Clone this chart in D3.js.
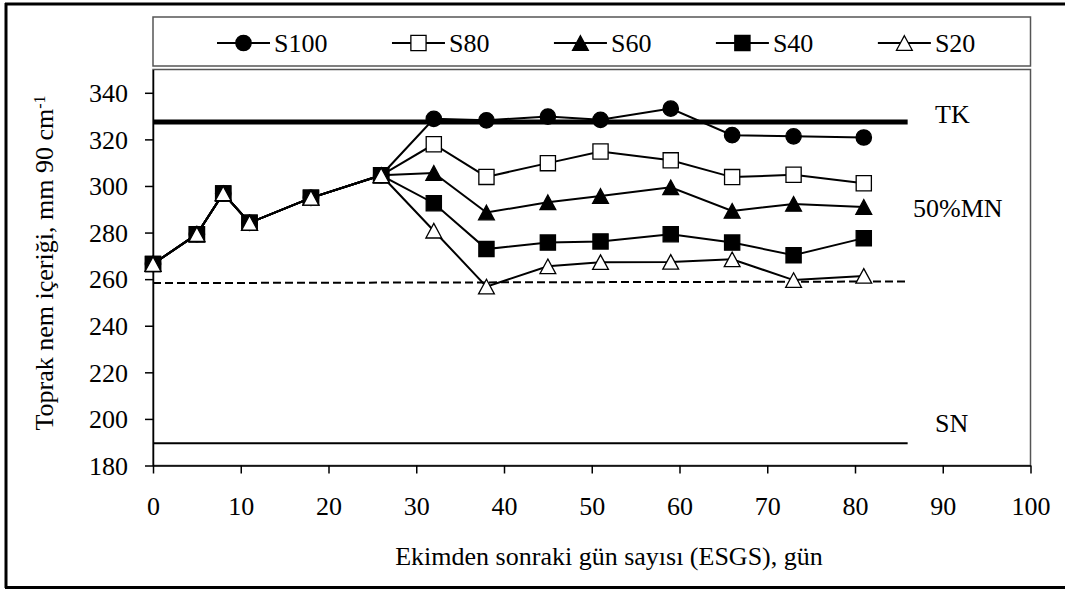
<!DOCTYPE html>
<html>
<head>
<meta charset="utf-8">
<script src="https://cdn.jsdelivr.net/npm/d3@7"></script>
<style>
  html, body { margin: 0; padding: 0; background: #fff; }
  svg text { font-family: "Liberation Serif", "Times New Roman", "DejaVu Serif", serif; fill: #000; }
</style>
</head>
<body>
<svg id="chart" width="1065" height="589"></svg>
<script>
// Days after sowing
const days = [0, 5, 8, 11, 18, 26, 32, 38, 45, 51, 59, 66, 73, 81];

// Soil water content (mm / 90 cm) per irrigation treatment
const s100 = [266.5, 279.3, 296.8, 284.2, 294.9, 304.6, 328.8, 328.2, 329.8, 328.4, 333.2, 321.8, 321.3, 320.8];
const s80  = [266.5, 279.3, 296.8, 284.2, 294.9, 304.6, 317.9, 303.9, 309.8, 314.8, 311.0, 303.8, 304.8, 301.2];
const s60  = [266.5, 279.3, 296.8, 284.2, 294.9, 304.6, 305.6, 288.6, 293.0, 295.7, 299.4, 289.3, 292.3, 291.0];
const s40  = [266.5, 279.3, 296.8, 284.2, 294.9, 304.6, 292.6, 272.9, 275.7, 276.2, 279.3, 275.7, 270.3, 277.6];
const s20  = [266.5, 279.3, 296.8, 284.2, 294.9, 304.6, 280.8, 256.8, 265.5, 267.3, 267.4, 268.5, 259.6, 261.4];

const seriesNames = ["S100", "S80", "S60", "S40", "S20"];
const seriesValues = [s100, s80, s60, s40, s20];
const seriesMarkers = ["circle", "square", "triangle", "square", "triangle"];
const seriesFilled = [true, false, true, true, false];

// Reference levels: field capacity, 50% allowable depletion, wilting point
const refDays = [0, 86];
const tkLevel = [327.5, 327.5];
const mnLevel = [258.3, 259.0];
const snLevel = [189.5, 189.6];
const refLabels = ["TK", "50%MN", "SN"];

const xTicks = [0, 10, 20, 30, 40, 50, 60, 70, 80, 90, 100];
const yTicks = [180, 200, 220, 240, 260, 280, 300, 320, 340];

const svg = d3.select("#chart");
const FONT = 26;
const SERIF = '"Liberation Serif", "Times New Roman", "DejaVu Serif", serif';

// Outer frame (left, top, bottom)
svg.append("line").attr("x1", 6).attr("x2", 6).attr("y1", 3).attr("y2", 588)
  .attr("stroke", "#000").attr("stroke-width", 3);
svg.append("line").attr("x1", 5).attr("x2", 1065).attr("y1", 4).attr("y2", 4)
  .attr("stroke", "#000").attr("stroke-width", 3);
svg.append("line").attr("x1", 5).attr("x2", 1065).attr("y1", 587.5).attr("y2", 587.5)
  .attr("stroke", "#000").attr("stroke-width", 3);

const plot = { left: 153, right: 1030.5, top: 69.5, bottom: 465.5 };

const x = d3.scaleLinear().domain([0, 100]).range([plot.left, plot.right]);
const y = d3.scaleLinear().domain([180, 350]).range([plot.bottom, plot.top]);

// Plot area frame
svg.append("rect")
  .attr("x", plot.left).attr("y", plot.top)
  .attr("width", plot.right - plot.left).attr("height", plot.bottom - plot.top)
  .attr("fill", "none").attr("stroke", "#555").attr("stroke-width", 1.5);

// Legend frame
svg.append("rect")
  .attr("x", 153).attr("y", 17).attr("width", 1030.5 - 153).attr("height", 49)
  .attr("fill", "none").attr("stroke", "#555").attr("stroke-width", 1.5);

// Axes
const xAxis = svg.append("g")
  .attr("transform", `translate(0,${plot.bottom})`)
  .call(d3.axisBottom(x).tickValues(xTicks).tickSize(8).tickSizeOuter(0).tickPadding(0));
xAxis.attr("font-family", SERIF);
xAxis.select(".domain").attr("stroke", "#000").attr("stroke-width", 1.5);
xAxis.selectAll(".tick line").attr("stroke", "#000").attr("stroke-width", 1.5);
xAxis.selectAll(".tick text")
  .attr("y", 49.5).attr("dy", null)
  .style("font-size", FONT + "px").style("font-family", SERIF);

const yAxis = svg.append("g")
  .attr("transform", `translate(${plot.left},0)`)
  .call(d3.axisLeft(y).tickValues(yTicks).tickSize(8).tickSizeOuter(0).tickPadding(17));
yAxis.attr("font-family", SERIF);
yAxis.select(".domain").attr("stroke", "#000").attr("stroke-width", 1.5);
yAxis.selectAll(".tick line").attr("stroke", "#000").attr("stroke-width", 1.5);
yAxis.selectAll(".tick text")
  .attr("dy", "0.34em")
  .style("font-size", FONT + "px").style("font-family", SERIF);

// Axis titles
svg.append("text")
  .attr("x", 609).attr("y", 565)
  .attr("text-anchor", "middle")
  .style("font-size", FONT + "px")
  .text("Ekimden sonraki gün sayısı (ESGS), gün");

const yTitle = svg.append("text")
  .attr("transform", "translate(53,263) rotate(-90)")
  .attr("text-anchor", "middle")
  .style("font-size", FONT + "px");
yTitle.append("tspan").text("Toprak nem içeriği, mm 90 cm");
yTitle.append("tspan").attr("dy", "-0.5em").style("font-size", "16px").text("-1");

// Reference lines
const refLine = d3.line().x((d, i) => x(refDays[i])).y(d => y(d));
svg.append("path").datum(tkLevel).attr("d", refLine)
  .attr("fill", "none").attr("stroke", "#000").attr("stroke-width", 5);
svg.append("path").datum(mnLevel).attr("d", refLine)
  .attr("fill", "none").attr("stroke", "#000").attr("stroke-width", 2)
  .attr("stroke-dasharray", "8,4");
svg.append("path").datum(snLevel).attr("d", refLine)
  .attr("fill", "none").attr("stroke", "#000").attr("stroke-width", 2);

svg.append("text").attr("x", 935).attr("y", 123)
  .style("font-size", FONT + "px").text(refLabels[0]);
svg.append("text").attr("x", 913).attr("y", 217)
  .style("font-size", FONT + "px").text(refLabels[1]);
svg.append("text").attr("x", 935).attr("y", 432)
  .style("font-size", FONT + "px").text(refLabels[2]);

// Marker shapes
function markerPath(kind) {
  if (kind === "circle") {
    return d3.symbol().type(d3.symbolCircle).size(Math.PI * 7.7 * 7.7)();
  }
  if (kind === "square") {
    const h = 7.6;
    return `M${-h},${-h}H${h}V${h}H${-h}Z`;
  }
  const w = 7.9, h = 7.3;
  return `M0,${-h}L${w},${h}L${-w},${h}Z`;
}

function drawMarker(g, kind, filled) {
  g.append("path")
    .attr("d", markerPath(kind))
    .attr("fill", filled ? "#000" : "#fff")
    .attr("stroke", "#000")
    .attr("stroke-width", 1.3);
}

// Series
const line = d3.line().x((d, i) => x(days[i])).y(d => y(d));
seriesValues.forEach((vals, si) => {
  const g = svg.append("g");
  g.append("path").datum(vals).attr("d", line)
    .attr("fill", "none").attr("stroke", "#000").attr("stroke-width", 2);
  vals.forEach((v, i) => {
    const m = g.append("g").attr("transform", `translate(${x(days[i])},${y(v)})`);
    drawMarker(m, seriesMarkers[si], seriesFilled[si]);
  });
});

// Legend
let lx = 217;
const ly = 43;
seriesNames.forEach((name, si) => {
  const g = svg.append("g");
  g.append("line").attr("x1", lx).attr("x2", lx + 53).attr("y1", ly).attr("y2", ly)
    .attr("stroke", "#000").attr("stroke-width", 2);
  const m = g.append("g").attr("transform", `translate(${lx + 26.5},${ly})`);
  drawMarker(m, seriesMarkers[si], seriesFilled[si]);
  const t = g.append("text").attr("x", lx + 57).attr("y", ly + 9)
    .style("font-size", FONT + "px").text(name);
  lx = lx + 57 + t.node().getComputedTextLength() + 64.5;
});
</script>
</body>
</html>
